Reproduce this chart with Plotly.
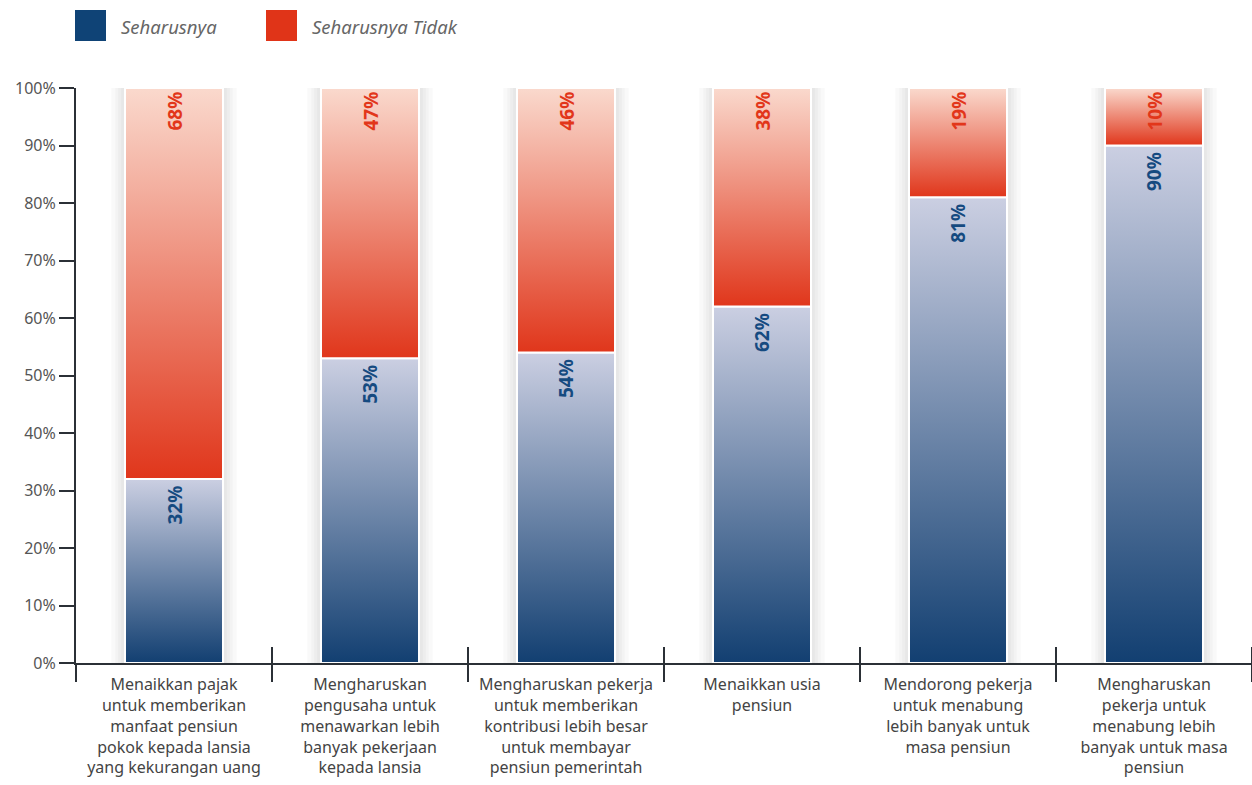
import plotly.graph_objects as go

categories = [
    "Menaikkan pajak<br>untuk memberikan<br>manfaat pensiun<br>pokok kepada lansia<br>yang kekurangan uang",
    "Mengharuskan<br>pengusaha untuk<br>menawarkan lebih<br>banyak pekerjaan<br>kepada lansia",
    "Mengharuskan pekerja<br>untuk memberikan<br>kontribusi lebih besar<br>untuk membayar<br>pensiun pemerintah",
    "Menaikkan usia<br>pensiun",
    "Mendorong pekerja<br>untuk menabung<br>lebih banyak untuk<br>masa pensiun",
    "Mengharuskan<br>pekerja untuk<br>menabung lebih<br>banyak untuk masa<br>pensiun",
]
seharusnya = [32, 53, 54, 62, 81, 90]
seharusnya_tidak = [68, 47, 46, 38, 19, 10]
series_names = ["Seharusnya", "Seharusnya Tidak"]
y_ticks = [0, 10, 20, 30, 40, 50, 60, 70, 80, 90, 100]

BLUE_DARK = "#123f71"
BLUE_LIGHT = "#cbcfe2"
RED_DARK = "#e0361b"
RED_LIGHT = "#fad9cd"
BLUE_TXT = "#154a80"
RED_TXT = "#e2361a"
FONT = "Noto Sans"

half = 0.25
fig = go.Figure()
n = len(categories)
xs = list(range(n))

# soft shadows
for i in xs:
    total = seharusnya[i] + seharusnya_tidak[i]
    for k, d in enumerate([0.07, 0.05, 0.035, 0.02]):
        fig.add_trace(go.Scatter(
            x=[i - half - d, i + half + d, i + half + d, i - half - d, i - half - d],
            y=[0, 0, total + d * 8, total + d * 8, 0],
            mode="lines", line=dict(width=0), fill="toself",
            fillcolor="rgba(0,0,0,0.025)", hoverinfo="skip", showlegend=False))

# gradient bars
for i in xs:
    b = seharusnya[i]
    t = b + seharusnya_tidak[i]
    fig.add_trace(go.Scatter(
        x=[i - half, i + half, i + half, i - half, i - half],
        y=[0, 0, b, b, 0], mode="lines", line=dict(color="white", width=2),
        fill="toself",
        fillgradient=dict(type="vertical", colorscale=[[0, BLUE_DARK], [1, BLUE_LIGHT]]),
        name=series_names[0], showlegend=False, hoverinfo="skip"))
    fig.add_trace(go.Scatter(
        x=[i - half, i + half, i + half, i - half, i - half],
        y=[b, b, t, t, b], mode="lines", line=dict(color="white", width=2),
        fill="toself",
        fillgradient=dict(type="vertical", colorscale=[[0, RED_DARK], [1, RED_LIGHT]]),
        name=series_names[1], showlegend=False, hoverinfo="skip"))

annotations = []
for i in xs:
    b = seharusnya[i]
    t = b + seharusnya_tidak[i]
    annotations.append(dict(x=i, y=b, xref="x", yref="y", text=f"<b>{seharusnya[i]}%</b>",
                            textangle=-90, showarrow=False, yanchor="top", yshift=-5,
                            font=dict(family=FONT, size=19, color=BLUE_TXT)))
    annotations.append(dict(x=i, y=t, xref="x", yref="y", text=f"<b>{seharusnya_tidak[i]}%</b>",
                            textangle=-90, showarrow=False, yanchor="top", yshift=-2,
                            font=dict(family=FONT, size=19, color=RED_TXT)))

# legend
shapes = []
leg = [(75, "#0f4376", series_names[0]), (266, "#e03418", series_names[1])]
for px, col, name in leg:
    shapes.append(dict(type="rect", xref="paper", yref="paper",
                       x0=(px - 76) / 1176, x1=(px + 31 - 76) / 1176,
                       y0=1 + (88 - 41) / 575, y1=1 + (88 - 10) / 575,
                       fillcolor=col, line=dict(width=0)))
    annotations.append(dict(x=(px + 44 - 76) / 1176, y=1 + (88 - 26) / 575, xref="paper", yref="paper",
                            text=f"<i>{name}</i>", showarrow=False, xanchor="left", yanchor="middle",
                            font=dict(family=FONT, size=18.5, color="#666666")))

# upward part of boundary ticks
for i in range(1, n + 1):
    shapes.append(dict(type="line", xref="x", yref="paper", x0=i - 0.5, x1=i - 0.5,
                       y0=0, y1=16 / 575, line=dict(color="#2b3036", width=2)))

fig.update_layout(
    width=1252, height=785,
    margin=dict(l=76, r=0, t=88, b=122),
    paper_bgcolor="white", plot_bgcolor="white",
    showlegend=False,
    annotations=annotations, shapes=shapes,
    xaxis=dict(range=[-0.5, n - 0.5], tickmode="array", tickvals=xs, ticktext=categories,
               ticks="outside", ticklen=6, tickcolor="rgba(0,0,0,0)", showgrid=False,
               zeroline=False, showline=True, linecolor="#2b3036", automargin=False,
               linewidth=2, tickfont=dict(family=FONT, size=16, color="#444444"),
               minor=dict(tickmode="array", tickvals=[i - 0.5 for i in range(n + 1)], ticks="outside",
                          ticklen=17, tickwidth=2, tickcolor="#2b3036", showgrid=False),
               fixedrange=True),
    yaxis=dict(range=[0, 100], tickmode="array", tickvals=y_ticks,
               ticktext=[f"{v}%" for v in y_ticks], ticks="outside", ticklen=15, tickwidth=2,
               tickcolor="#2b3036", showgrid=False, zeroline=False, showline=True,
               linecolor="#2b3036", linewidth=2, automargin=False,
               tickfont=dict(family=FONT, size=16, color="#555555"), fixedrange=True),
)

fig.write_html("out.html")
